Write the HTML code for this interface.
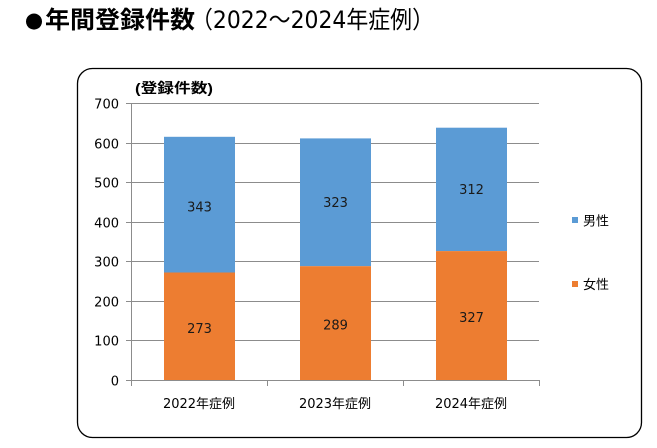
<!DOCTYPE html>
<html><head><meta charset="utf-8">
<style>
html,body{margin:0;padding:0;background:#fff;}
svg{display:block;}
text{font-family:"DejaVu Sans","Noto Sans CJK JP",sans-serif;}
.jp{font-family:"Liberation Sans","Noto Sans CJK JP",sans-serif;}
</style></head>
<body>
<svg width="657" height="448" viewBox="0 0 657 448" xmlns="http://www.w3.org/2000/svg">
<rect x="0" y="0" width="657" height="448" fill="#fff"/>
<!-- Title -->
<text x="34" y="27" font-size="21" fill="#000" text-anchor="middle" font-family="Noto Sans CJK JP, sans-serif">●</text>
<text x="45" y="28" font-size="24" font-weight="bold" fill="#000" font-family="Noto Sans CJK JP, sans-serif" textLength="150" lengthAdjust="spacingAndGlyphs">年間登録件数</text>
<text x="191" y="28" font-size="24" fill="#000" font-family="DejaVu Sans, Noto Sans CJK JP, sans-serif" textLength="243" lengthAdjust="spacingAndGlyphs">（2022～2024年症例）</text>

<!-- Box -->
<rect x="77.5" y="68.5" width="564" height="369" rx="15" ry="15" fill="#fff" stroke="#000" stroke-width="1.3"/>

<!-- Axis title -->
<text x="135" y="93" font-size="14" font-weight="bold" fill="#000" class="jp" textLength="78" lengthAdjust="spacingAndGlyphs">(登録件数)</text>

<!-- Gridlines -->
<g stroke="#8c8c8c" stroke-width="1">
<line x1="126" y1="103.5" x2="539" y2="103.5"/>
<line x1="126" y1="143.5" x2="539" y2="143.5"/>
<line x1="126" y1="182.5" x2="539" y2="182.5"/>
<line x1="126" y1="222.5" x2="539" y2="222.5"/>
<line x1="126" y1="261.5" x2="539" y2="261.5"/>
<line x1="126" y1="301.5" x2="539" y2="301.5"/>
<line x1="126" y1="340.5" x2="539" y2="340.5"/>
<line x1="126" y1="380.5" x2="539" y2="380.5"/>
</g>

<!-- Bars -->
<g>
<rect x="164" y="136.8" width="71" height="135.7" fill="#5b9bd5"/>
<rect x="164" y="272.5" width="71" height="108" fill="#ed7d31"/>
<rect x="300" y="138.4" width="71" height="127.8" fill="#5b9bd5"/>
<rect x="300" y="266.2" width="71" height="114.3" fill="#ed7d31"/>
<rect x="436" y="127.7" width="71" height="123.4" fill="#5b9bd5"/>
<rect x="436" y="251.1" width="71" height="129.4" fill="#ed7d31"/>
</g>

<!-- Axes -->
<g stroke="#8c8c8c" stroke-width="1">
<line x1="131.5" y1="103.5" x2="131.5" y2="380.5"/>
<line x1="131" y1="380.5" x2="540" y2="380.5"/>
<line x1="131.5" y1="380" x2="131.5" y2="386"/>
<line x1="267.5" y1="380" x2="267.5" y2="386"/>
<line x1="403.5" y1="380" x2="403.5" y2="386"/>
<line x1="539.5" y1="380" x2="539.5" y2="386"/>
</g>

<!-- Y labels -->
<g font-size="13" fill="#000" text-anchor="end">
<text x="119" y="108.5">700</text>
<text x="119" y="148.5">600</text>
<text x="119" y="187.5">500</text>
<text x="119" y="227.5">400</text>
<text x="119" y="266.5">300</text>
<text x="119" y="306.5">200</text>
<text x="119" y="345.5">100</text>
<text x="119" y="385.5">0</text>
</g>

<!-- Category labels -->
<g font-size="13" fill="#000" text-anchor="middle">
<text x="199" y="408">2022年症例</text>
<text x="335" y="408">2023年症例</text>
<text x="471" y="408">2024年症例</text>
</g>

<!-- Data labels -->
<g font-size="13" fill="#1a1a1a" text-anchor="middle">
<text x="199.5" y="211.5">343</text>
<text x="199.5" y="333">273</text>
<text x="335.5" y="207">323</text>
<text x="335.5" y="329.5">289</text>
<text x="471.5" y="194">312</text>
<text x="471.5" y="322">327</text>
</g>

<!-- Legend -->
<rect x="572" y="217" width="6" height="6" fill="#5b9bd5"/>
<text x="583" y="225.5" font-size="13" fill="#000" class="jp">男性</text>
<rect x="572" y="281" width="6" height="6" fill="#ed7d31"/>
<text x="583" y="289" font-size="13" fill="#000" class="jp">女性</text>
</svg>
</body></html>
